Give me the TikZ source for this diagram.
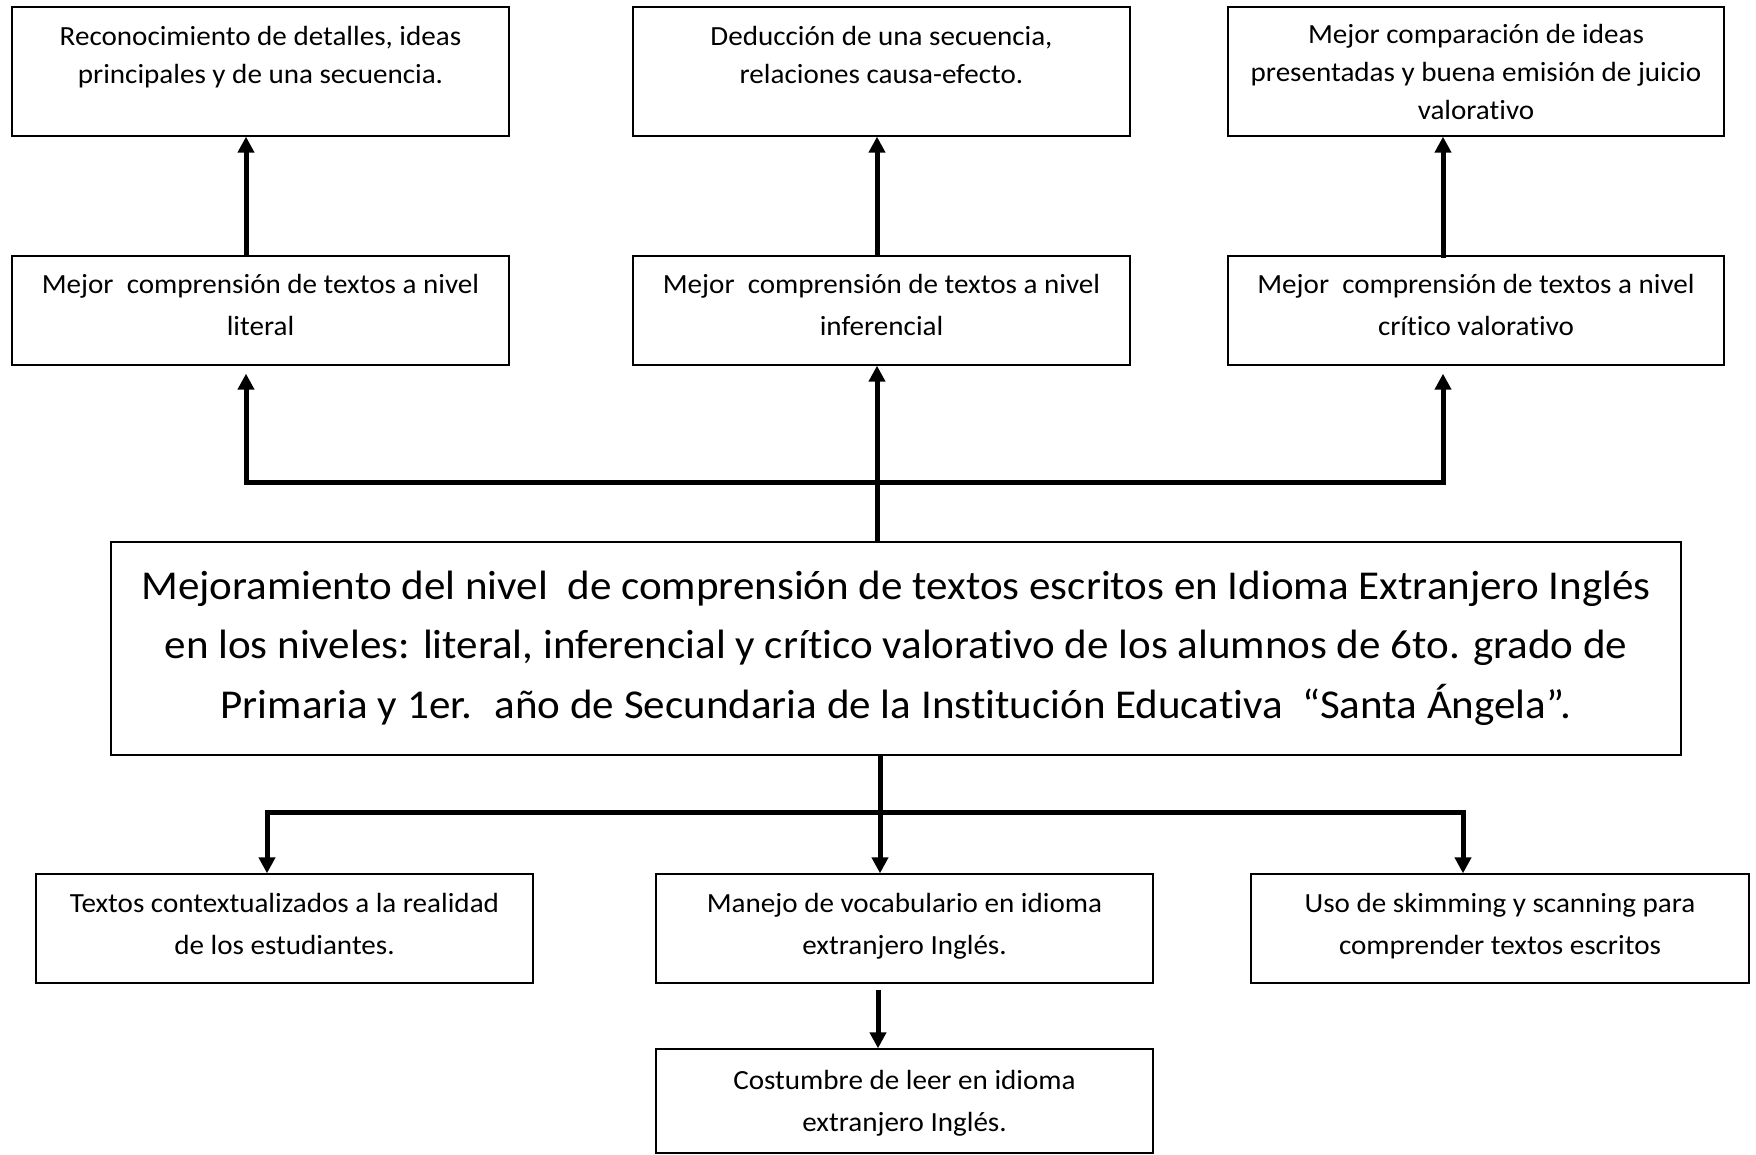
\documentclass[tikz,border=0pt]{standalone}
\usepackage{fontspec}
\setmainfont{Carlito}[FakeStretch=1.05,Ligatures=NoCommon]
\usetikzlibrary{arrows.meta,calc}
\begin{document}
\begin{tikzpicture}[x=1pt,y=-1pt,
  box/.style={draw=black,line width=1.3pt,inner sep=0pt,fill=white},
  txt/.style={inner sep=0pt,align=center,font=\fontsize{27.7}{38}\selectfont},
  txtb/.style={inner sep=0pt,align=center,font=\fontsize{27.7}{42}\selectfont},
  bigtxt/.style={inner sep=0pt,align=center,font=\fontsize{41}{59.5}\selectfont},
  conn/.style={line width=5pt},
  arr/.style={line width=5pt,-{Triangle[width=16pt,length=16pt]}}]
\useasboundingbox (0,0) rectangle (1756,1155);
\fill[white] (0,0) rectangle (1756,1155);

% x positions of connectors
\coordinate (xL) at (246,0);
\coordinate (xC) at (877,0);
\coordinate (xR) at (1443,0);
\coordinate (yU) at (0,482);
\coordinate (bL) at (267,0);
\coordinate (bC) at (880,0);
\coordinate (bR) at (1463,0);
\coordinate (yD) at (0,812);

% top row
\node[box,minimum width=497pt,minimum height=129pt] (t1) at (260.5,71.5) {};
\node[box,minimum width=497pt,minimum height=129pt] (t2) at (881.5,71.5) {};
\node[box,minimum width=496pt,minimum height=129pt] (t3) at (1476,71.5) {};
\node[txt] (t1t) at (260.5,57) {\strut Reconocimiento de detalles, ideas\\\strut principales y de una secuencia.};
\node[txt] (t2t) at (881.5,57) {\strut Deducción de una secuencia,\\\strut relaciones causa-efecto.};
\node[txt] (t3t) at (1476,74) {\strut Mejor comparación de ideas\\\strut presentadas y buena emisión de juicio\\\strut valorativo};

% middle row
\node[box,minimum width=497pt,minimum height=109pt] (m1) at (260.5,310.5) {};
\node[box,minimum width=497pt,minimum height=109pt] (m2) at (881.5,310.5) {};
\node[box,minimum width=496pt,minimum height=109pt] (m3) at (1476,310.5) {};
\node[txtb] (m1t) at (260.5,306) {\strut Mejor~ comprensión de textos a nivel\\\strut literal};
\node[txtb] (m2t) at (881.5,306) {\strut Mejor~ comprensión de textos a nivel\\\strut inferencial};
\node[txtb] (m3t) at (1476,306) {\strut Mejor~ comprensión de textos a nivel\\\strut crítico valorativo};

% main box
\node[box,minimum width=1570pt,minimum height=213pt] (main) at (896,648.5) {};
\node[bigtxt] (maint) at (896,647) {\strut Mejoramiento del nivel~ de comprensión de textos escritos en Idioma Extranjero Inglés\\\strut en los niveles: literal, inferencial y crítico valorativo de los alumnos de 6to. grado de\\\strut Primaria y 1er.~ año de Secundaria de la Institución Educativa~ “Santa Ángela”.};

% bottom row
\node[box,minimum width=497pt,minimum height=109pt] (b1) at (284.5,928.5) {};
\node[box,minimum width=497pt,minimum height=109pt] (b2) at (904.5,928.5) {};
\node[box,minimum width=498pt,minimum height=109pt] (b3) at (1500,928.5) {};
\node[txtb] (b1t) at (284.5,925) {\strut Textos contextualizados a la realidad\\\strut de los estudiantes.};
\node[txtb] (b2t) at (904.5,925) {\strut Manejo de vocabulario en idioma\\\strut extranjero Inglés.};
\node[txtb] (b3t) at (1500,925) {\strut Uso de skimming y scanning para\\\strut comprender textos escritos};

\node[box,minimum width=497pt,minimum height=104pt] (b4) at (904.5,1101) {};
\node[txtb] (b4t) at (904.5,1102) {\strut Costumbre de leer en idioma\\\strut extranjero Inglés.};

% arrows middle -> top
\draw[arr] (m1.north -| xL) -- (t1.south -| xL);
\draw[arr] (m2.north -| xC) -- (t2.south -| xC);
\draw[arr] ([yshift=-3pt]m3.north -| xR) -- (t3.south -| xR);

% main -> middle row
\draw[conn] ([xshift=-2.5pt]xL|-yU) -- ([xshift=2.5pt]xR|-yU);
\draw[arr] (main.north -| xC) -- (m2.south -| xC);
\draw[arr,shorten >=8pt] ([yshift=2.5pt]xL|-yU) -- (m1.south -| xL);
\draw[arr,shorten >=8pt] ([yshift=2.5pt]xR|-yU) -- (m3.south -| xR);

% main -> bottom row
\draw[conn] ([xshift=-2.5pt]bL|-yD) -- ([xshift=2.5pt]bR|-yD);
\draw[arr] (main.south -| bC) -- (b2.north -| bC);
\draw[arr] ([yshift=-2.5pt]bL|-yD) -- (b1.north -| bL);
\draw[arr] ([yshift=-2.5pt]bR|-yD) -- (b3.north -| bR);

% b2 -> b4
\coordinate (xB) at (878,0);
\draw[arr,shorten <=6pt] (b2.south -| xB) -- (b4.north -| xB);
\end{tikzpicture}
\end{document}
